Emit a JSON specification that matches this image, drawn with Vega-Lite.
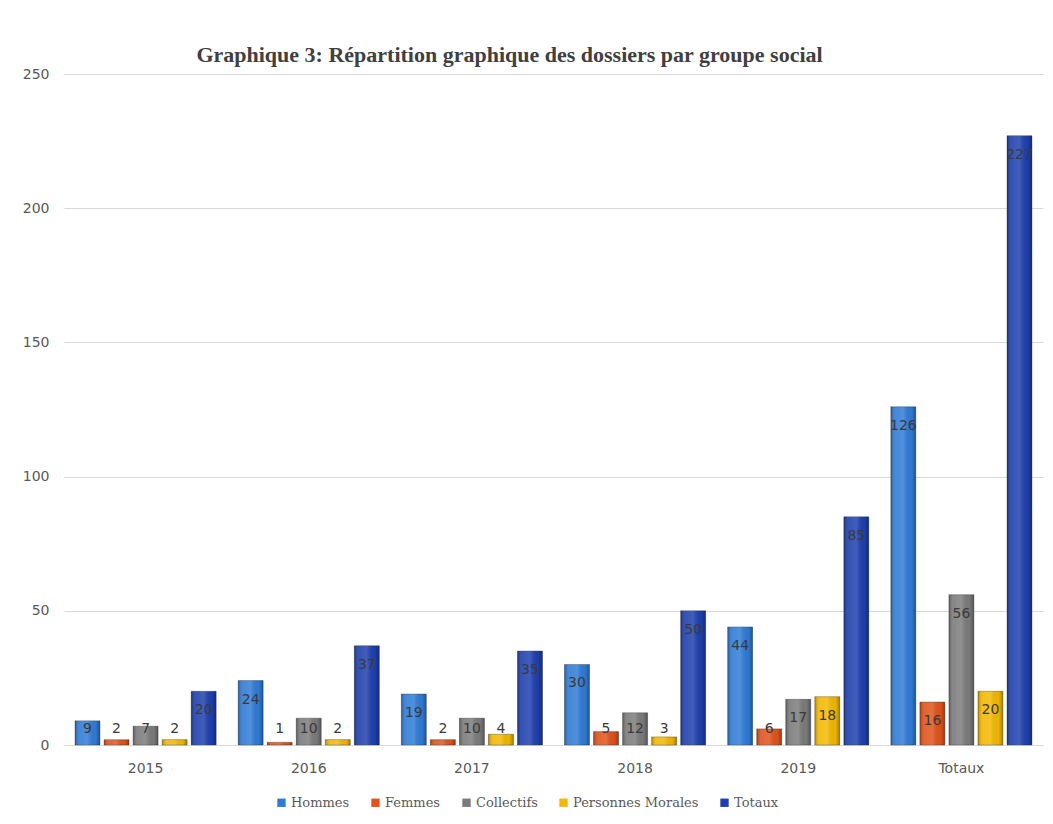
{
  "$schema": "https://vega.github.io/schema/vega-lite/v6.json",
  "width": 979,
  "height": 671,
  "autosize": {"type": "none"},
  "padding": {"left": 64, "top": 74, "right": 10, "bottom": 79},
  "background": "white",
  "title": {
    "text": "Graphique 3: Répartition graphique des dossiers par groupe social",
    "font": "Liberation Serif",
    "fontSize": 22,
    "fontWeight": "bold",
    "color": "#404040",
    "anchor": "middle",
    "dx": -44,
    "offset": 0
  },
  "data": {
    "values": [
      {"annee": "2015", "groupe": "Hommes", "n": 9},
      {"annee": "2015", "groupe": "Femmes", "n": 2},
      {"annee": "2015", "groupe": "Collectifs", "n": 7},
      {"annee": "2015", "groupe": "Personnes Morales", "n": 2},
      {"annee": "2015", "groupe": "Totaux", "n": 20},
      {"annee": "2016", "groupe": "Hommes", "n": 24},
      {"annee": "2016", "groupe": "Femmes", "n": 1},
      {"annee": "2016", "groupe": "Collectifs", "n": 10},
      {"annee": "2016", "groupe": "Personnes Morales", "n": 2},
      {"annee": "2016", "groupe": "Totaux", "n": 37},
      {"annee": "2017", "groupe": "Hommes", "n": 19},
      {"annee": "2017", "groupe": "Femmes", "n": 2},
      {"annee": "2017", "groupe": "Collectifs", "n": 10},
      {"annee": "2017", "groupe": "Personnes Morales", "n": 4},
      {"annee": "2017", "groupe": "Totaux", "n": 35},
      {"annee": "2018", "groupe": "Hommes", "n": 30},
      {"annee": "2018", "groupe": "Femmes", "n": 5},
      {"annee": "2018", "groupe": "Collectifs", "n": 12},
      {"annee": "2018", "groupe": "Personnes Morales", "n": 3},
      {"annee": "2018", "groupe": "Totaux", "n": 50},
      {"annee": "2019", "groupe": "Hommes", "n": 44},
      {"annee": "2019", "groupe": "Femmes", "n": 6},
      {"annee": "2019", "groupe": "Collectifs", "n": 17},
      {"annee": "2019", "groupe": "Personnes Morales", "n": 18},
      {"annee": "2019", "groupe": "Totaux", "n": 85},
      {"annee": "Totaux", "groupe": "Hommes", "n": 126},
      {"annee": "Totaux", "groupe": "Femmes", "n": 16},
      {"annee": "Totaux", "groupe": "Collectifs", "n": 56},
      {"annee": "Totaux", "groupe": "Personnes Morales", "n": 20},
      {"annee": "Totaux", "groupe": "Totaux", "n": 227}
    ]
  },
  "encoding": {
    "x": {
      "field": "annee",
      "type": "nominal",
      "sort": null,
      "title": null,
      "scale": {"paddingInner": 0.135, "paddingOuter": 0.0675},
      "axis": {
        "labelAngle": 0,
        "labelFont": "DejaVu Sans",
        "labelFontSize": 14,
        "labelColor": "#595959",
        "labelPadding": 16,
        "ticks": false,
        "domainColor": "#d9d9d9",
        "domainWidth": 1
      }
    },
    "xOffset": {
      "field": "groupe",
      "type": "nominal",
      "sort": ["Hommes", "Femmes", "Collectifs", "Personnes Morales", "Totaux"],
      "scale": {"paddingInner": 0.14, "paddingOuter": 0}
    }
  },
  "layer": [
    {
      "mark": {"type": "bar", "stroke": "#2b2b2b", "strokeOpacity": 0.35, "strokeWidth": 1},
      "encoding": {
        "y": {
          "field": "n",
          "type": "quantitative",
          "stack": null,
          "title": null,
          "scale": {"domain": [0, 250], "nice": false},
          "axis": {
            "values": [0, 50, 100, 150, 200, 250],
            "labelFont": "DejaVu Sans",
            "labelFontSize": 14,
            "labelColor": "#595959",
            "labelPadding": 15,
            "ticks": false,
            "domain": false,
            "gridColor": "#d9d9d9",
            "gridWidth": 1
          }
        },
        "color": {
          "field": "groupe",
          "type": "nominal",
          "sort": ["Hommes", "Femmes", "Collectifs", "Personnes Morales", "Totaux"],
          "scale": {
            "domain": ["Hommes", "Femmes", "Collectifs", "Personnes Morales", "Totaux"],
            "range": ["#2f7bd6", "#e0531b", "#7b7b7b", "#f2b800", "#1e3fae"]
          },
          "legend": {
            "title": null,
            "orient": "none",
            "legendX": 211,
            "legendY": 722,
            "direction": "horizontal",
            "symbolType": "square",
            "symbolSize": 70,
            "symbolStrokeWidth": 0,
            "labelFont": "DejaVu Serif",
            "labelFontSize": 13,
            "labelColor": "#595959",
            "columnPadding": 19,
            "labelOffset": 3
          }
        }
      }
    },
    {
      "mark": {
        "type": "bar",
        "fill": {
          "x1": 0, "y1": 0, "x2": 1, "y2": 0,
          "gradient": "linear",
          "stops": [
            {"offset": 0, "color": "rgba(0,0,0,0.28)"},
            {"offset": 0.18, "color": "rgba(255,255,255,0.10)"},
            {"offset": 0.5, "color": "rgba(255,255,255,0.16)"},
            {"offset": 0.82, "color": "rgba(0,0,0,0.02)"},
            {"offset": 1, "color": "rgba(0,0,0,0.30)"}
          ]
        }
      },
      "encoding": {
        "y": {"field": "n", "type": "quantitative", "stack": null}
      }
    },
    {
      "transform": [{"filter": "datum.n >= 13"}],
      "mark": {"type": "text", "font": "DejaVu Sans", "fontSize": 14, "color": "#3a3a3a", "baseline": "middle", "dy": 19},
      "encoding": {
        "y": {"field": "n", "type": "quantitative", "stack": null},
        "text": {"field": "n", "type": "quantitative"}
      }
    },
    {
      "transform": [{"filter": "datum.n < 13"}],
      "mark": {"type": "text", "font": "DejaVu Sans", "fontSize": 14, "color": "#3a3a3a", "baseline": "middle"},
      "encoding": {
        "y": {"datum": 6, "type": "quantitative"},
        "text": {"field": "n", "type": "quantitative"}
      }
    }
  ],
  "config": {
    "view": {"stroke": null}
  }
}
